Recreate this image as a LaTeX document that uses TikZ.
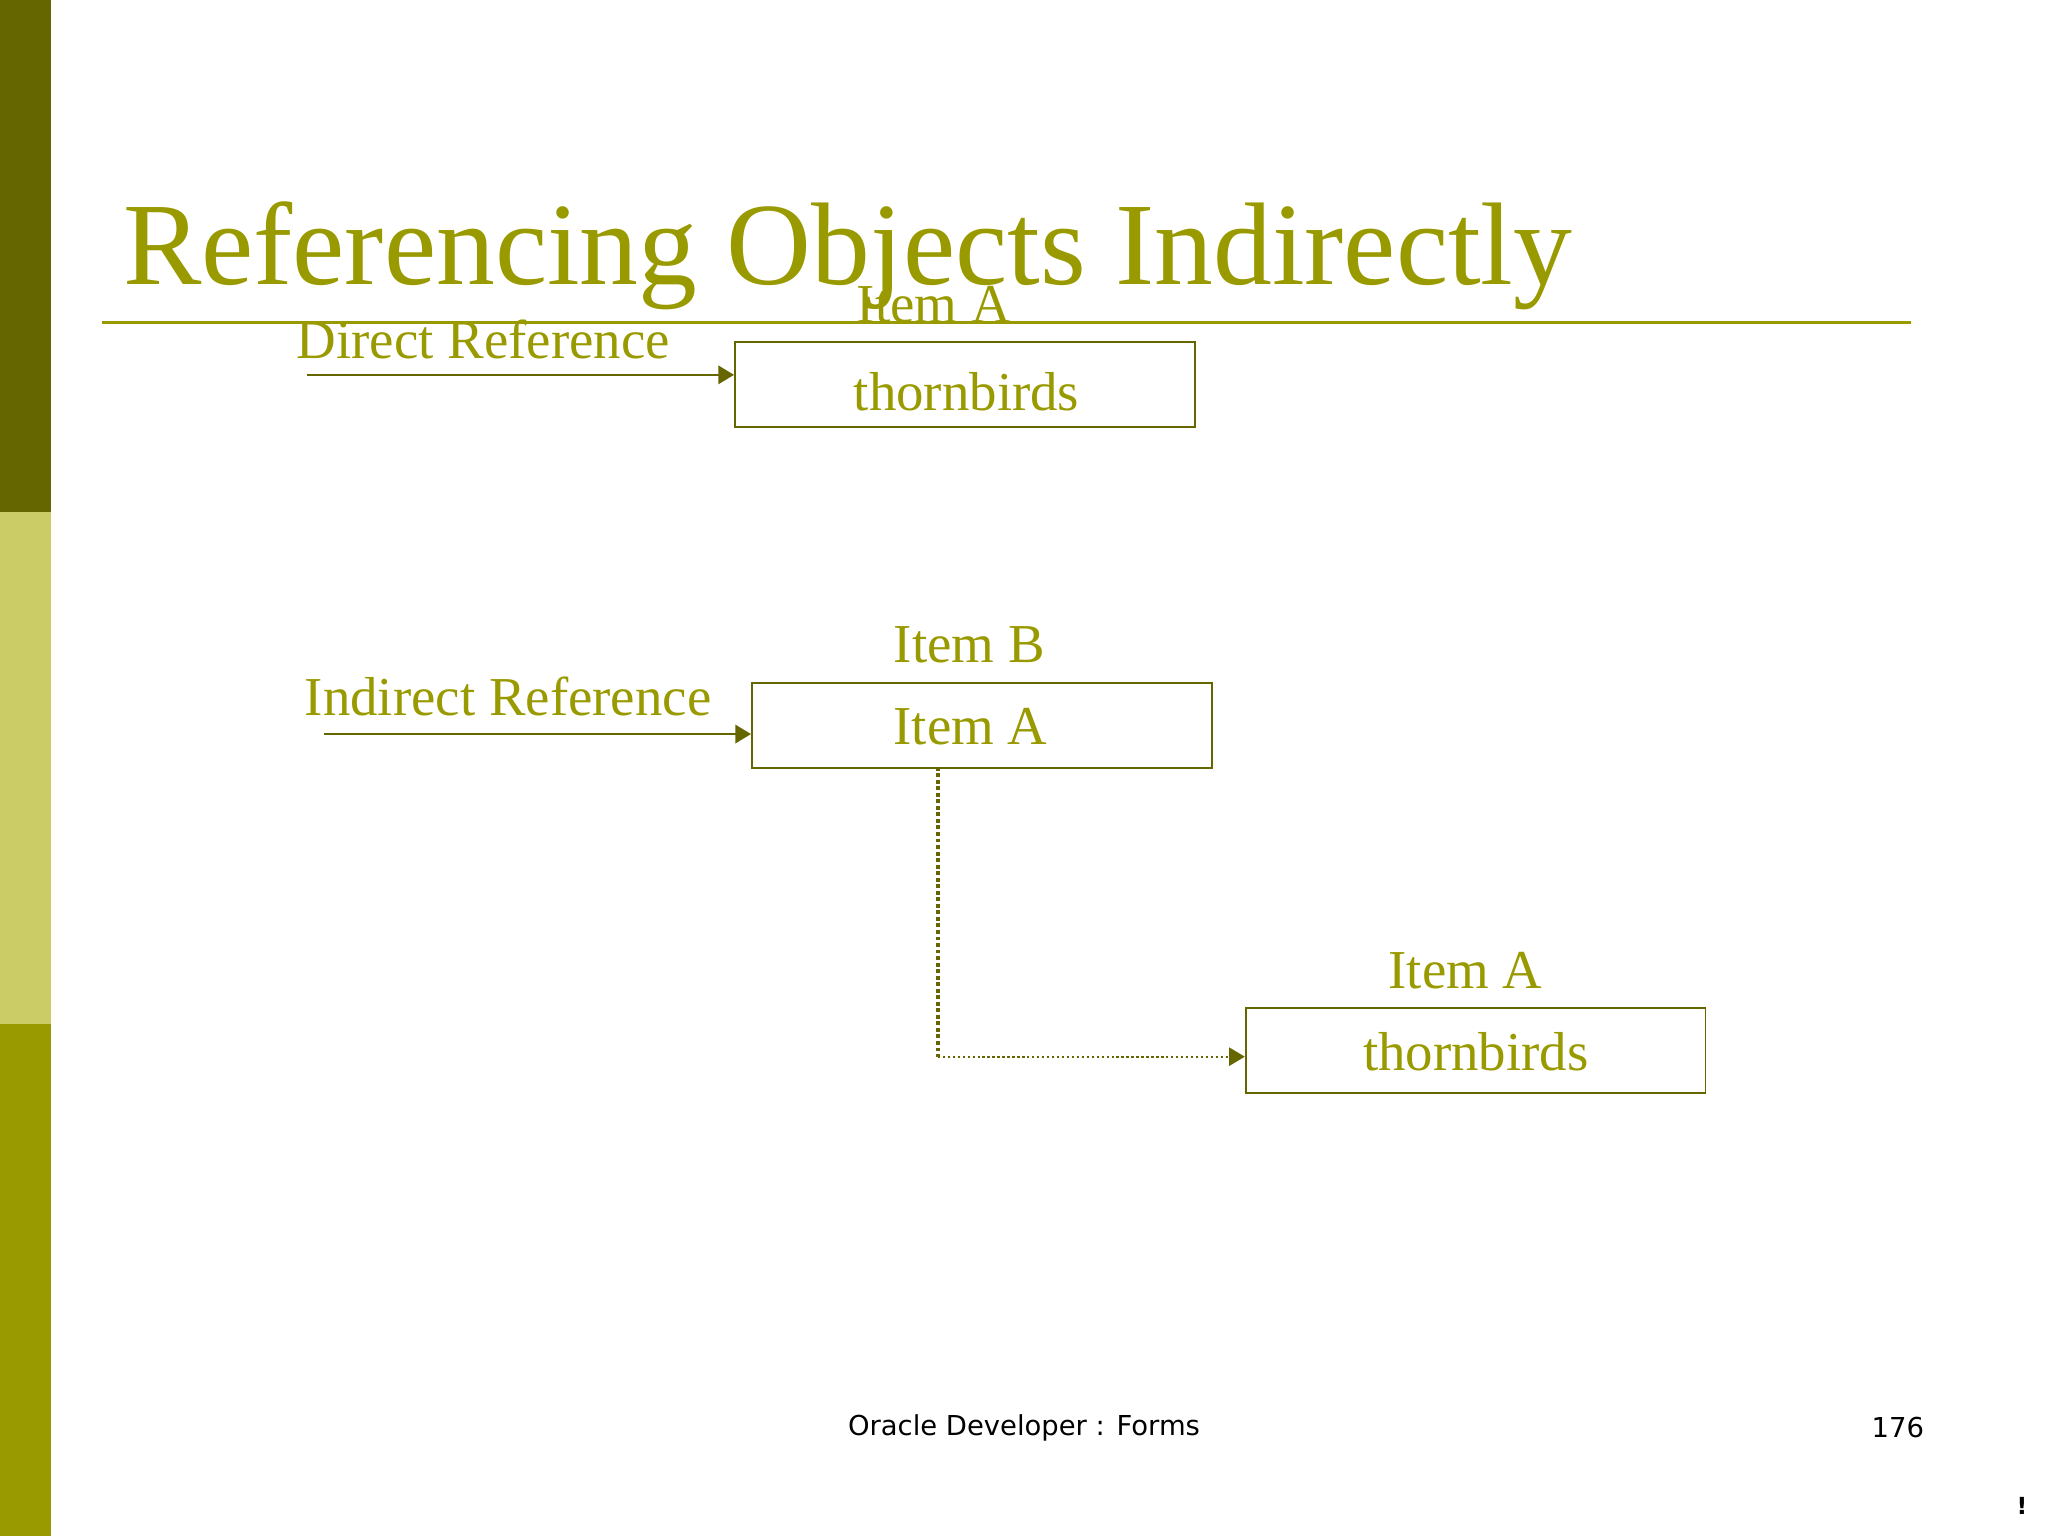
\documentclass[tikz,border=0pt]{standalone}
\usepackage{fontspec}
\setmainfont{Liberation Serif}
\newfontfamily\footfont{DejaVu Sans}
\usetikzlibrary{arrows.meta}
\definecolor{olive}{HTML}{999900}
\definecolor{dolive}{HTML}{666600}
\definecolor{lolive}{HTML}{CCCC66}
\begin{document}
\begin{tikzpicture}[x=1pt,y=-1pt,
  lbl/.style={text=olive,font=\fontsize{42}{46}\selectfont,inner sep=0},
  box/.style={draw=dolive,line width=1.5pt,minimum width=352pt,minimum height=65pt,anchor=north west,inner sep=0},
  arr/.style={draw=dolive,line width=1.8pt,-{Triangle[length=12pt,width=14pt]}}]
\useasboundingbox (0,0) rectangle (1568,1176);
\fill[dolive] (0,0) rectangle (39,392);
\fill[lolive] (0,392) rectangle (39,784);
\fill[olive] (0,784) rectangle (39,1176);
\node[anchor=base west,text=olive,font=\fontsize{90}{94}\selectfont,inner sep=0] (title) at (94,218) {Referencing Objects Indirectly};
\draw[olive,line width=2.5pt] (78,247) -- (1463,247);
% direct
\node[box] (b1) at (562,261) {};
\node[lbl] (t1) at (740,300) {thornbirds};
\node[lbl] (ia1) at (715,233) {Item A};
\node[lbl] (dr) at (370,260) {Direct Reference};
\coordinate (s1) at (235,287);
\draw[arr] (s1) -- (b1.west |- s1);
% indirect
\node[box] (b2) at (575,522) {};
\node[lbl] (ia2) at (743,556) {Item A};
\node[lbl] (ib) at (742,494) {Item B};
\node[lbl] (ir) at (389,533) {Indirect Reference};
\coordinate (s2) at (248,562);
\draw[arr] (s2) -- (b2.west |- s2);
\node[box] (b3) at (953,771) {};
\node[lbl] (t3) at (1130,805) {thornbirds};
\node[lbl] (ia3) at (1122,743) {Item A};
\coordinate (d0) at (718,587);
\coordinate (d1) at (718,809);
\draw[dolive,line width=3pt,dotted] (d0) -- (d1);
\draw[arr,dotted,line width=1.5pt] (d1) -- (b3.west |- d1);
% footer
\node[font=\footfont\fontsize{21}{24}\selectfont,inner sep=0] (f1) at (784,1093) {Oracle Developer : Forms};
\node[font=\footfont\fontsize{21}{24}\selectfont,inner sep=0] (f2) at (1453,1093) {176};
\node[font=\footfont\bfseries\fontsize{18}{20}\selectfont,inner sep=0] (f3) at (1548,1153) {!};
\end{tikzpicture}
\end{document}
